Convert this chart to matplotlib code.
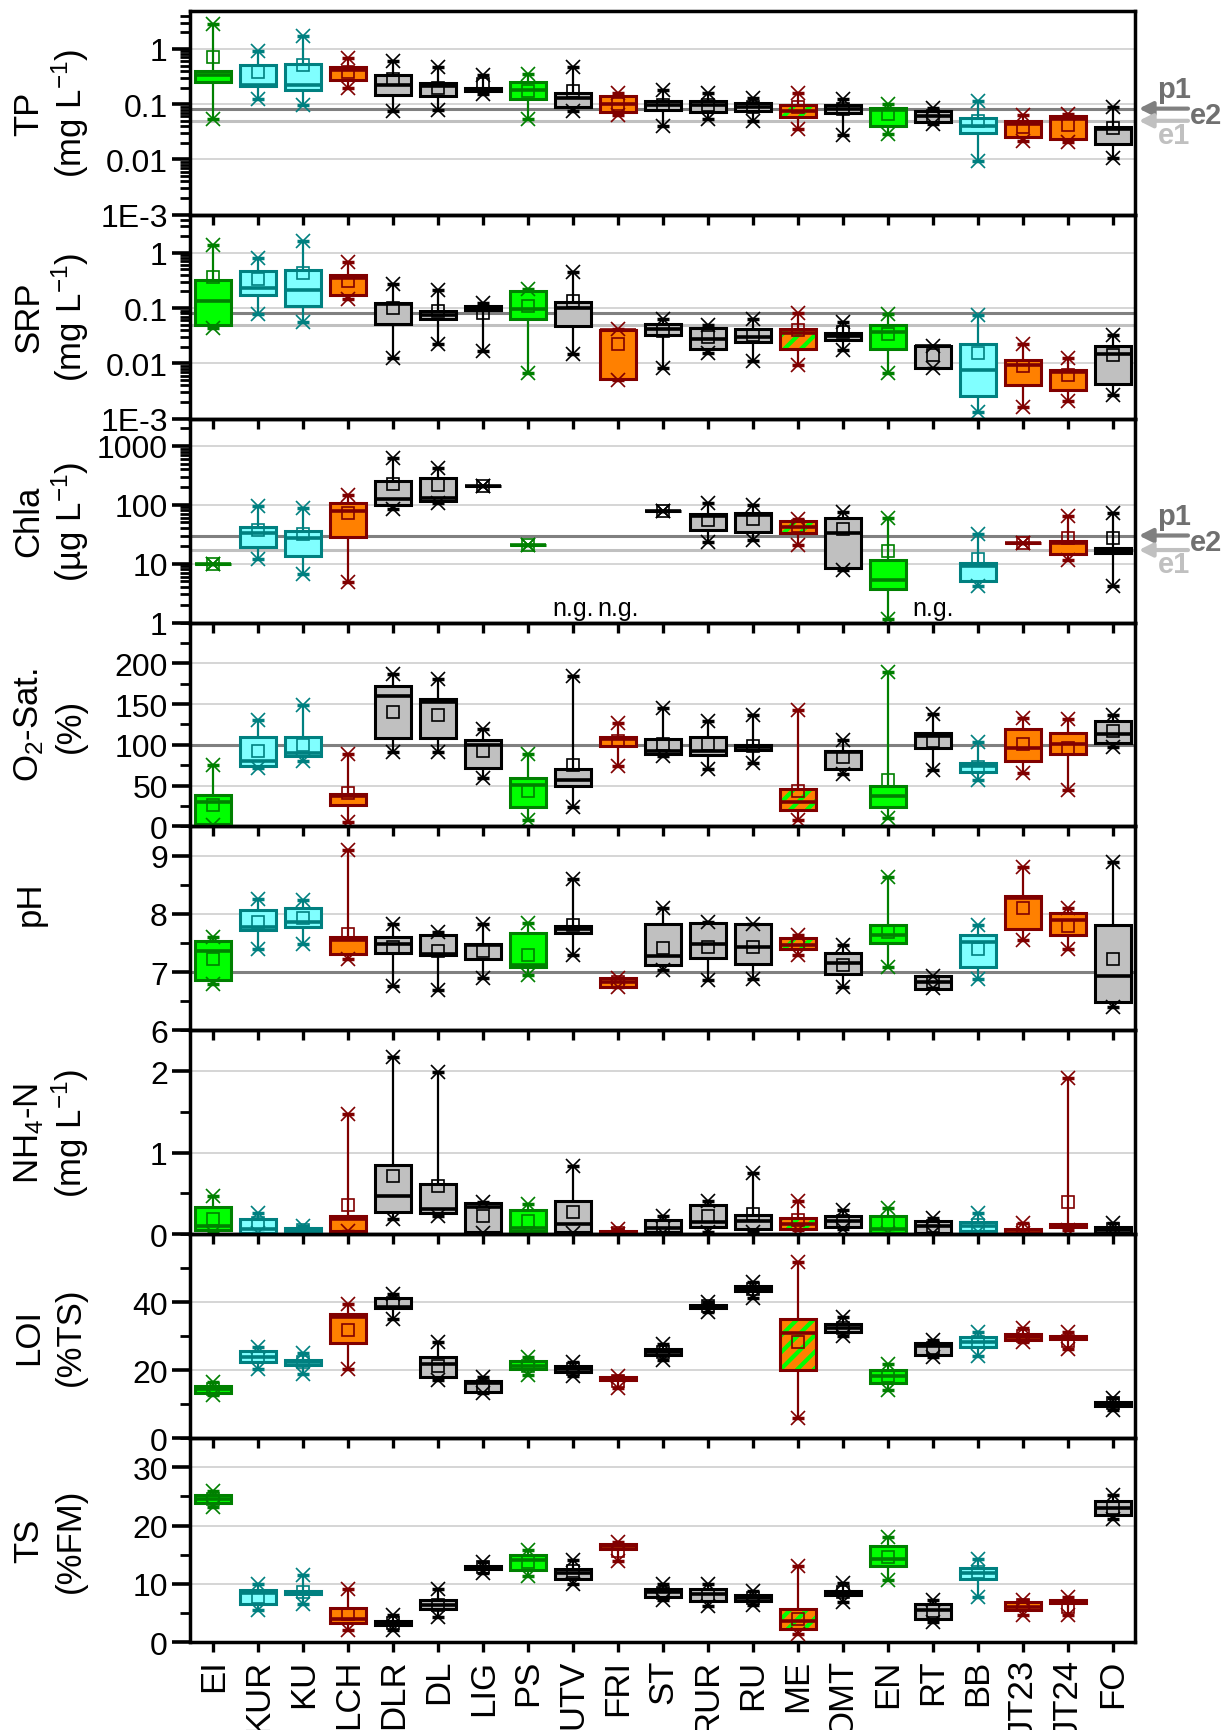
import numpy as np
import matplotlib
matplotlib.use("Agg")
import matplotlib.pyplot as plt
import matplotlib.ticker as mticker
from matplotlib.patches import Rectangle

plt.rcParams['font.family'] = ['Liberation Sans', 'DejaVu Sans']
plt.rcParams['mathtext.fontset'] = 'custom'
plt.rcParams['mathtext.rm'] = 'Liberation Sans'
plt.rcParams['mathtext.it'] = 'Liberation Sans'
plt.rcParams['mathtext.default'] = 'regular'
plt.rcParams['hatch.linewidth'] = 3.0

categories = ["EI", "KUR", "KU", "LCH", "DLR", "DL", "LIG", "PS", "UTV", "FRI", "ST",
              "RUR", "RU", "ME", "OMT", "EN", "RT", "BB", "JT23", "JT24", "FO"]
groups = ["G", "C", "C", "O", "K", "K", "K", "G", "K", "O", "K",
          "K", "K", "M", "K", "G", "K", "C", "O", "O", "K"]
nan = np.nan

# ---------------- TP (mg/L) ----------------
tp_q1 = [0.257, 0.21, 0.184, 0.27, 0.144, 0.14, 0.174, 0.125, 0.088, 0.072, 0.077,
         0.072, 0.074, 0.058, 0.068, 0.04, 0.047, 0.030, 0.0254, 0.023, 0.0187]
tp_med = [0.34, 0.22, 0.22, 0.42, 0.226, 0.21, 0.187, 0.184, 0.13, 0.1, 0.095,
          0.095, 0.088, 0.074, 0.082, 0.08, 0.061, 0.041, 0.044, 0.054, 0.036]
tp_q3 = [0.405, 0.52, 0.535, 0.47, 0.34, 0.24, 0.2, 0.257, 0.16, 0.14, 0.116,
         0.116, 0.106, 0.097, 0.095, 0.087, 0.076, 0.057, 0.049, 0.06, 0.038]
tp_lo = [0.053, 0.125, 0.095, 0.195, 0.074, 0.077, 0.154, 0.053, 0.074, 0.064, 0.041,
         0.053, 0.05, 0.036, 0.028, 0.029, 0.044, 0.0092, 0.022, 0.021, 0.0106]
tp_hi = [2.83, 0.9, 1.69, 0.68, 0.615, 0.47, 0.34, 0.35, 0.47, 0.16, 0.177,
         0.158, 0.128, 0.16, 0.125, 0.1, 0.085, 0.112, 0.0624, 0.067, 0.088]
tp_mean = [0.71, 0.38, 0.51, 0.38, 0.28, 0.2, 0.23, 0.175, 0.17, 0.1, 0.095,
           0.095, 0.09, 0.088, 0.082, 0.067, 0.062, 0.049, 0.038, 0.042, 0.037]

# ---------------- SRP (mg/L) ----------------
srp_q1 = [0.05, 0.174, 0.107, 0.17, 0.052, 0.0625, 0.093, 0.0625, 0.047, 0.0051, 0.033,
          0.018, 0.0244, 0.0185, 0.027, 0.018, 0.0083, 0.00256, 0.004, 0.0033, 0.0043]
srp_med = [0.137, 0.23, 0.21, 0.35, 0.118, 0.076, 0.1, 0.095, 0.1, 0.0397, 0.041,
           0.028, 0.03, 0.036, 0.031, 0.037, 0.0204, 0.0075, 0.0095, 0.007, 0.0146]
srp_q3 = [0.32, 0.47, 0.49, 0.39, 0.125, 0.087, 0.107, 0.208, 0.128, 0.0397, 0.051,
          0.0437, 0.041, 0.0424, 0.036, 0.05, 0.0204, 0.022, 0.0114, 0.0077, 0.0207]
srp_lo = [0.044, 0.078, 0.056, 0.147, 0.0127, 0.022, 0.0166, 0.0066, 0.015, 0.005, 0.0083,
          0.0157, 0.011, 0.0095, 0.0172, 0.0067, 0.0083, 0.0013, 0.0016, 0.0021, 0.0027]
srp_hi = [1.38, 0.81, 1.65, 0.67, 0.274, 0.21, 0.123, 0.223, 0.445, 0.041, 0.064,
          0.0487, 0.064, 0.082, 0.056, 0.079, 0.021, 0.076, 0.0228, 0.0126, 0.032]
srp_mean = [0.36, 0.33, 0.43, 0.315, 0.1, 0.09, 0.082, 0.107, 0.132, 0.0228, 0.038,
            0.03, 0.033, 0.0397, 0.037, 0.0345, 0.014, 0.0157, 0.0091, 0.0061, 0.014]

# ---------------- Chla (ug/L) ----------------
chla_q1 = [10, 19.2, 13.5, 28.8, 98, 115, 209, 20.5, nan, nan, 78.5,
           37.4, 34.5, 33.6, 8.33, 3.66, nan, 5.07, 22.2, 14.4, 15]
chla_med = [10, 32.8, 27.7, 78.5, 124, 132, 209, 20.5, nan, nan, 78.5,
            64.6, 68, 42.5, 33.6, 5.28, nan, 9.1, 22.2, 22.8, 16.4]
chla_q3 = [10, 42, 35.9, 109, 254, 279, 209, 20.5, nan, nan, 78.5,
           69, 71.7, 53, 60.5, 11.5, nan, 10.1, 22.2, 24.3, 18.2]
chla_lo = [10, 12.2, 6.76, 4.94, 86, 105, 209, 20.5, nan, nan, 78.5,
           23.7, 25.2, 20.5, 7.8, 1.13, nan, 4.17, 22.2, 11.5, 4.17]
chla_hi = [10, 95.5, 89.6, 145, 632, 428, 209, 20.5, nan, nan, 78.5,
           109, 97.9, 58, 75.5, 60.5, nan, 31.5, 22.2, 64.6, 73.6]
chla_mean = [10, 37.4, 31.5, 71.7, 223, 214, 209, 20.5, nan, nan, 78.5,
             55.2, 56.6, 43.6, 38.4, 16.4, nan, 12.2, 22.2, 27.7, 27.7]

# ---------------- O2 saturation (%) ----------------
o2_q1 = [3.3, 74, 86, 26.7, 108.8, 108, 71.9, 23.8, 49.3, 98.6, 88.3,
         87, 93.2, 19.7, 69.8, 23.8, 95.7, 67, 80, 88.3, 101.8]
o2_med = [30, 80, 90, 37, 160, 152, 99.4, 51.3, 57.5, 106.8, 92.4,
          93, 97.3, 29.6, 91.6, 37, 110.9, 74, 96.5, 100.6, 113]
o2_q3 = [39, 110, 110, 40, 171.7, 156, 106, 59.5, 69.8, 110, 106.8,
         110, 100.2, 46.4, 92.4, 50, 115, 77.2, 120, 115, 129.4]
o2_lo = [2, 72, 80, 5.3, 91, 91, 59.5, 8.2, 23.8, 74, 86.2,
         71, 77.2, 8.2, 63.7, 10.3, 69, 56.7, 65, 44.4, 97.7]
o2_hi = [74.7, 130, 148.7, 88.3, 186.9, 180.7, 119, 89, 184.8, 127.3, 144.6,
         129.4, 136.3, 143, 106, 189.7, 137.6, 103.5, 133.5, 132.2, 136]
o2_mean = [26.7, 92.4, 99.4, 41, 140.5, 136, 92.4, 43.1, 75, 105, 100.6,
           100.6, 98.6, 43, 85.4, 57.5, 104.7, 73, 100.6, 96.5, 117]

# ---------------- pH ----------------
ph_q1 = [6.857, 7.714, 7.77, 7.314, 7.33, 7.286, 7.23, 7.086, 7.674, 6.743, 7.114,
         7.24, 7.143, 7.389, 6.97, 7.497, 6.714, 7.086, 7.731, 7.64, 6.486]
ph_med = [7.354, 7.77, 7.857, 7.543, 7.474, 7.314, 7.47, 7.114, 7.743, 6.83, 7.274,
          7.474, 7.43, 7.457, 7.16, 7.63, 6.83, 7.514, 8.27, 7.886, 6.926]
ph_q3 = [7.526, 8.057, 8.097, 7.6, 7.6, 7.63, 7.486, 7.674, 7.789, 6.897, 7.83,
         7.846, 7.83, 7.583, 7.33, 7.811, 6.93, 7.64, 8.314, 8.011, 7.811]
ph_lo = [6.79, 7.4, 7.486, 7.217, 6.76, 6.7, 6.897, 6.954, 7.286, 6.74, 7.03,
         6.857, 6.886, 7.286, 6.743, 7.086, 6.72, 6.874, 7.543, 7.389, 6.4]
ph_hi = [7.6, 8.257, 8.23, 9.097, 7.83, 7.686, 7.83, 7.846, 8.589, 6.9, 8.097,
         7.86, 7.83, 7.63, 7.47, 8.629, 6.93, 7.8, 8.8, 8.097, 8.886]
ph_mean = [7.23, 7.857, 7.926, 7.65, 7.43, 7.37, 7.37, 7.286, 7.8, 6.83, 7.41,
           7.43, 7.43, 7.486, 7.114, 7.686, 6.83, 7.389, 8.097, 7.79, 7.23]

# ---------------- NH4-N (mg/L) ----------------
nh4_q1 = [0.053, 0.02, 0.01, 0.041, 0.267, 0.259, 0.033, 0.041, 0.033, 0.0, 0.03,
          0.09, 0.062, 0.07, 0.094, 0.02, 0.02, 0.04, 0.01, 0.086, 0.01]
nh4_med = [0.1, 0.07, 0.04, 0.185, 0.472, 0.308, 0.328, 0.082, 0.123, 0.02, 0.082,
           0.156, 0.164, 0.123, 0.164, 0.06, 0.1, 0.1, 0.05, 0.1, 0.05]
nh4_q3 = [0.34, 0.185, 0.082, 0.226, 0.85, 0.616, 0.378, 0.3, 0.41, 0.04, 0.172,
          0.361, 0.234, 0.193, 0.226, 0.218, 0.164, 0.152, 0.07, 0.123, 0.094]
nh4_lo = [0.02, 0.01, 0.005, 0.04, 0.185, 0.218, 0.02, 0.02, 0.02, 0.0, 0.015,
          0.03, 0.03, 0.053, 0.06, 0.01, 0.01, 0.03, 0.01, 0.053, 0.0]
nh4_hi = [0.47, 0.26, 0.1, 1.478, 2.177, 1.99, 0.4, 0.37, 0.842, 0.07, 0.226,
          0.41, 0.75, 0.41, 0.3, 0.316, 0.2, 0.26, 0.135, 1.91, 0.135]
nh4_mean = [0.185, 0.135, 0.05, 0.357, 0.72, 0.595, 0.226, 0.164, 0.267, 0.02, 0.1,
            0.226, 0.246, 0.17, 0.164, 0.135, 0.1, 0.11, 0.05, 0.4, 0.06]

# ---------------- LOI (%TS) ----------------
loi_q1 = [13.4, 22.3, 21.5, 28.1, 38.2, 17.9, 13.7, 20.3, 19.4, 17.2, 24.5,
          38.4, 43.2, 20, 31.3, 16.2, 24.5, 26.8, 29, 29.1, 9.4]
loi_med = [14.4, 23.8, 22.5, 35.6, 38.7, 21.8, 16.2, 21.3, 20.3, 17.6, 25.3,
           38.8, 44, 30.8, 32.5, 18.2, 27.1, 28.3, 29.8, 29.6, 10.1]
loi_q3 = [15.4, 25.5, 23.1, 36.4, 41.2, 23.8, 16.9, 22.6, 21.3, 18.1, 26.1,
          39.2, 44.7, 35.2, 33.7, 20.1, 28, 29.8, 30.5, 30.1, 10.6]
loi_lo = [12.6, 20.3, 18.9, 20.3, 35.2, 17.2, 13.4, 18.6, 18.4, 14.9, 23.1,
          37.2, 41.2, 6, 30.1, 14.2, 23.8, 24.3, 28.3, 26.3, 8.4]
loi_hi = [16.6, 26.8, 25.1, 39.4, 42.4, 28.3, 17.9, 23.8, 22.3, 18.4, 27.8,
          40, 46, 51.9, 35.7, 21.8, 28.8, 31.1, 32.5, 31.1, 11.9]
loi_mean = [14.4, 23.8, 22.3, 31.8, 39.7, 21.3, 15.4, 21.3, 20.3, 16.9, 25.3,
            38.8, 44, 28.3, 32.5, 18.4, 26.5, 28.3, 30.1, 28.5, 10.4]

# ---------------- TS (%FM) ----------------
ts_q1 = [23.8, 6.6, 8.3, 3.3, 2.9, 5.7, 12.5, 12.4, 10.8, 15.9, 7.7,
         7, 7, 2.2, 8.1, 13.1, 4, 10.9, 5.5, 6.7, 21.8]
ts_med = [24.6, 8.5, 8.6, 4, 3.3, 6.4, 12.8, 14.1, 11.8, 16.5, 8.6,
          8.3, 7.6, 3.7, 8.4, 14.3, 5.5, 11.8, 6.1, 6.9, 23]
ts_q3 = [25.2, 9, 8.8, 5.85, 3.7, 7.2, 13.1, 15, 12.6, 16.8, 9.1,
         9.1, 8.1, 5.7, 8.7, 16.5, 6.6, 12.7, 6.8, 7.2, 24.2]
ts_lo = [23.1, 5.5, 6.6, 2, 2.1, 4.3, 11.8, 11.4, 10, 13.9, 7.2,
         6.2, 6.3, 1.3, 6.9, 10.6, 3.4, 7.7, 4.7, 4.6, 21.1]
ts_hi = [25.9, 9.9, 11.5, 9.1, 4.6, 9.1, 13.8, 15.8, 14.1, 17.2, 10,
         9.9, 8.8, 13.1, 10.2, 18.1, 7.2, 14.3, 7.3, 7.7, 25.2]
ts_mean = [24.6, 7.7, 8.6, 4.9, 3.3, 6.4, 12.8, 13.8, 12.2, 15.6, 8.5,
           8, 7.6, 4, 8.6, 14.6, 5.3, 12, 6.3, 6, 23]

colors = {"G": ("#00FF00", "#008000"), "C": ("#80FFFF", "#008080"),
          "O": ("#FF8000", "#800000"), "K": ("#C0C0C0", "#000000"),
          "M": ("#FF8000", "#800000")}
DARK = "#808080"
LIGHT = "#C0C0C0"
GRID = "#D2D2D2"

panels = [
    dict(q1=tp_q1, med=tp_med, q3=tp_q3, lo=tp_lo, hi=tp_hi, mean=tp_mean, log=True,
         ylim=(1e-3, 4.9), ticks=[1e-3, 1e-2, 1e-1, 1], labels=["1E-3", "0.01", "0.1", "1"],
         grid=[1e-2, 1e-1, 1], refs=[(0.083, DARK), (0.05, LIGHT)],
         lab=("TP", r"(mg L$^{-1}$)")),
    dict(q1=srp_q1, med=srp_med, q3=srp_q3, lo=srp_lo, hi=srp_hi, mean=srp_mean, log=True,
         ylim=(1e-3, 4.9), ticks=[1e-3, 1e-2, 1e-1, 1], labels=["1E-3", "0.01", "0.1", "1"],
         grid=[1e-2, 1e-1, 1], refs=[(0.083, DARK), (0.05, LIGHT)],
         lab=("SRP", r"(mg L$^{-1}$)")),
    dict(q1=chla_q1, med=chla_med, q3=chla_q3, lo=chla_lo, hi=chla_hi, mean=chla_mean, log=True,
         ylim=(1, 2900), ticks=[1, 10, 100, 1000], labels=["1", "10", "100", "1000"],
         grid=[10, 100, 1000], refs=[(30, DARK), (17, LIGHT)],
         lab=("Chla", r"(µg L$^{-1}$)")),
    dict(q1=o2_q1, med=o2_med, q3=o2_q3, lo=o2_lo, hi=o2_hi, mean=o2_mean, log=False,
         ylim=(0, 250), ticks=[0, 50, 100, 150, 200], labels=None, minor=25,
         grid=[50, 150, 200], refs=[(100, DARK)],
         lab=(r"O$_2$-Sat.", "(%)")),
    dict(q1=ph_q1, med=ph_med, q3=ph_q3, lo=ph_lo, hi=ph_hi, mean=ph_mean, log=False,
         ylim=(6, 9.5), ticks=[6, 7, 8, 9], labels=None, minor=0.5,
         grid=[8, 9], refs=[(7, DARK)],
         lab=("pH", None)),
    dict(q1=nh4_q1, med=nh4_med, q3=nh4_q3, lo=nh4_lo, hi=nh4_hi, mean=nh4_mean, log=False,
         ylim=(0, 2.5), ticks=[0, 1, 2], labels=None, minor=0.5,
         grid=[1, 2], refs=[],
         lab=(r"NH$_4$-N", r"(mg L$^{-1}$)")),
    dict(q1=loi_q1, med=loi_med, q3=loi_q3, lo=loi_lo, hi=loi_hi, mean=loi_mean, log=False,
         ylim=(0, 60), ticks=[0, 20, 40], labels=None, minor=10,
         grid=[20, 40], refs=[],
         lab=("LOI", "(%TS)")),
    dict(q1=ts_q1, med=ts_med, q3=ts_q3, lo=ts_lo, hi=ts_hi, mean=ts_mean, log=False,
         ylim=(0, 35), ticks=[0, 10, 20, 30], labels=None, minor=5,
         grid=[10, 20, 30], refs=[],
         lab=("TS", "(%FM)")),
]

fig = plt.figure(figsize=(12.3, 17.31), dpi=100)
axes = fig.subplots(8, 1, sharex=True)
fig.subplots_adjust(left=0.1545, right=0.9228, top=0.9932, bottom=0.0508, hspace=0)

n = len(categories)
x = np.arange(n)
W = 0.8

for k, (ax, P) in enumerate(zip(axes, panels)):
    ax.set_facecolor("none")
    if P["log"]:
        ax.set_yscale("log")
    ax.set_ylim(*P["ylim"])
    ax.set_xlim(-0.52, n - 0.5)
    for g in P["grid"]:
        ax.axhline(g, color=GRID, lw=1.3, zorder=1)
    for val, col in P["refs"]:
        ax.axhline(val, color=col, lw=2.2, zorder=1.5)

    for i in range(n):
        q1, med, q3 = P["q1"][i], P["med"][i], P["q3"][i]
        lo, hi, mn = P["lo"][i], P["hi"][i], P["mean"][i]
        if np.isnan(med):
            continue
        fc, ec = colors[groups[i]]
        ax.plot([x[i], x[i]], [q3, hi], color=ec, lw=1.6, zorder=3, solid_capstyle="butt")
        ax.plot([x[i], x[i]], [lo, q1], color=ec, lw=1.6, zorder=3, solid_capstyle="butt")
        if groups[i] == "M":
            ax.add_patch(Rectangle((x[i] - W / 2, q1), W, q3 - q1, facecolor=fc,
                                   edgecolor="#00FF00", hatch="//", lw=0, zorder=4))
            ax.add_patch(Rectangle((x[i] - W / 2, q1), W, q3 - q1, fill=False,
                                   edgecolor=ec, lw=2.2, zorder=4.5))
        else:
            ax.add_patch(Rectangle((x[i] - W / 2, q1), W, q3 - q1, facecolor=fc,
                                   edgecolor=ec, lw=2.2, zorder=4))
        ax.plot([x[i] - W / 2, x[i] + W / 2], [med, med], color=ec, lw=2.6, zorder=5,
                solid_capstyle="butt")
        ax.plot([x[i], x[i]], [lo, hi], ls="none", marker="x", ms=10, mew=1.2,
                color=ec, zorder=6)
        ax.plot([x[i], x[i]], [lo, hi], ls="none", marker="_", ms=9, mew=2.5,
                color=ec, zorder=6)
        ax.plot(x[i], mn, ls="none", marker="s", ms=8, mfc="none", mec=ec, mew=1.2,
                zorder=6)

    # y ticks
    ax.set_yticks(P["ticks"])
    if P["log"]:
        ax.yaxis.set_minor_locator(mticker.LogLocator(base=10, subs=np.arange(2, 10), numticks=20))
        ax.yaxis.set_minor_formatter(mticker.NullFormatter())
        ax.set_yticklabels(P["labels"])
    else:
        ax.yaxis.set_minor_locator(mticker.MultipleLocator(P["minor"]))
        ax.set_yticklabels([("%g" % t) for t in P["ticks"]])
    ax.set_ylim(*P["ylim"])
    ax.tick_params(axis="y", which="major", direction="out", length=13, width=2.6,
                   labelsize=23, pad=3)
    ax.tick_params(axis="y", which="minor", direction="out", length=7, width=2)
    ax.tick_params(axis="x", which="both", direction="out", length=7, width=2.4,
                   top=False, bottom=True)
    for sp in ax.spines.values():
        sp.set_linewidth(2.5)

    # y-labels
    pos = ax.get_position()
    yc = pos.y0 + pos.height / 2
    l1, l2 = P["lab"]
    if l2 is None:
        fig.text(30 / 1230, yc + 26 / 1731, l1, rotation=90, ha="center", va="center",
                 fontsize=25)
    else:
        fig.text(29 / 1230, yc, l1, rotation=90, ha="center", va="center", fontsize=25)
        fig.text(70 / 1230, yc, l2, rotation=90, ha="center", va="center", fontsize=25)

axes[-1].set_xticks(x)
axes[-1].set_xticklabels(categories, rotation=90, fontsize=25)
axes[-1].tick_params(axis="x", pad=5)

# n.g. labels in Chla panel
for i in range(n):
    if np.isnan(chla_med[i]):
        axes[2].text(x[i], 0.012, "n.g.", transform=axes[2].get_xaxis_transform(),
                     ha="center", va="bottom", fontsize=18)

# p1 / e2 / e1 annotations
TXT = "#707070"
for ax, dark, light in [(axes[0], 0.083, 0.05), (axes[2], 30, 17)]:
    tr = ax.get_yaxis_transform()
    ax.annotate("", xy=(1.004, dark), xytext=(1.056, dark), xycoords=tr,
                arrowprops=dict(arrowstyle="-|>", color=DARK, lw=3, mutation_scale=20,
                                shrinkA=0, shrinkB=0), annotation_clip=False)
    ax.annotate("", xy=(1.004, light), xytext=(1.056, light), xycoords=tr,
                arrowprops=dict(arrowstyle="-|>", color=LIGHT, lw=3, mutation_scale=20,
                                shrinkA=0, shrinkB=0), annotation_clip=False)
    ax.annotate("p1", xy=(1.041, dark), xycoords=tr, xytext=(0, 20),
                textcoords="offset pixels", ha="center", va="center", fontsize=21,
                fontweight="bold", color=TXT, annotation_clip=False)
    ax.annotate("e2", xy=(1.075, dark), xycoords=tr, xytext=(0, -6),
                textcoords="offset pixels", ha="center", va="center", fontsize=21,
                fontweight="bold", color=TXT, annotation_clip=False)
    ax.annotate("e1", xy=(1.041, light), xycoords=tr, xytext=(0, -14),
                textcoords="offset pixels", ha="center", va="center", fontsize=21,
                fontweight="bold", color=LIGHT, annotation_clip=False)

fig.savefig("out.png", dpi=100, facecolor="white")
